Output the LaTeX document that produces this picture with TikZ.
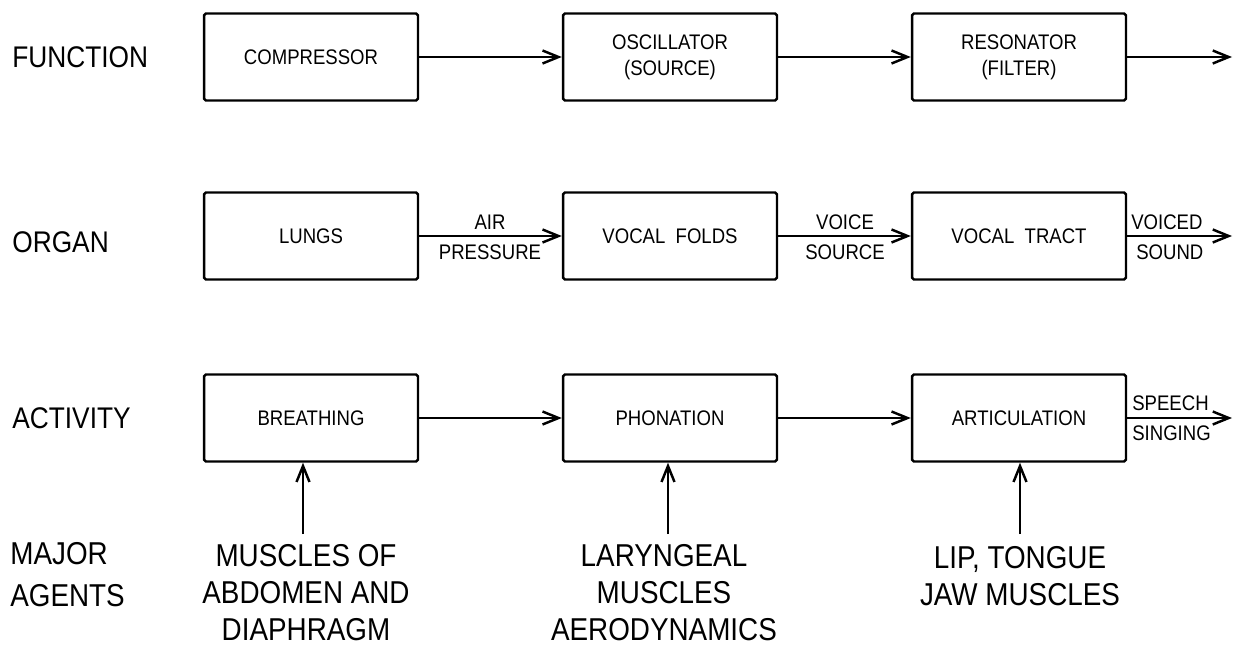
\documentclass[tikz,border=0pt]{standalone}
\usepackage{fontspec}
\setmainfont[FakeStretch=0.88]{Liberation Sans}
\usetikzlibrary{arrows.meta}
\tikzset{
  box/.style={draw, line width=1.4pt, rounded corners=1pt, minimum width=4.28cm, minimum height=1.74cm, align=center, inner sep=0pt, font=\fontsize{12}{15}\selectfont},
  arr/.style={line width=1.4pt, -{Straight Barb[length=3.2mm,width=2.6mm,line width=1.4pt]}},
  lbl/.style={inner sep=0pt, font=\fontsize{12}{14}\selectfont},
  side/.style={anchor=west, inner sep=0pt, font=\fontsize{17}{20}\selectfont},
  agent/.style={align=center, inner sep=0pt, font=\fontsize{18}{21}\selectfont}
}
\begin{document}
\begin{tikzpicture}[x=0.02cm, y=-0.02cm]
\useasboundingbox (0,0) rectangle (1241,646);
% left labels
\node[side] (function) at (12,57) {FUNCTION};
\node[side] (organ) at (12,242) {ORGAN};
\node[side] (activity) at (12,418) {ACTIVITY};
\node[side, font=\fontsize{18}{21}\selectfont] (major) at (10,554) {MAJOR};
\node[side, font=\fontsize{18}{21}\selectfont] (agents) at (10,596) {AGENTS};
% row 1
\node[box] (comp) at (311,57) {COMPRESSOR};
\node[box] (osc) at (670,57) {OSCILLATOR\\(SOURCE)};
\node[box] (res) at (1019,57) {RESONATOR\\(FILTER)};
\coordinate (out1) at (1232,57);
\draw[arr] (comp) -- (osc);
\draw[arr] (osc) -- (res);
\draw[arr] (res) -- (out1);
% row 2
\node[box] (lungs) at (311,236) {LUNGS};
\node[box] (folds) at (670,236) {VOCAL\ \ FOLDS};
\node[box] (tract) at (1019,236) {VOCAL\ \ TRACT};
\coordinate (out2) at (1232,236);
\draw[arr] (lungs) -- (folds);
\draw[arr] (folds) -- (tract);
\draw[arr] (tract) -- (out2);
\node[lbl] (air) at (490,222) {AIR};
\node[lbl] (pressure) at (490,252) {PRESSURE};
\node[lbl] (voice) at (845,222) {VOICE};
\node[lbl] (source) at (845,252) {SOURCE};
\node[lbl, anchor=west] (voiced) at (1131,222) {VOICED};
\node[lbl, anchor=west] (sound) at (1136,252) {SOUND};
% row 3
\node[box] (breath) at (311,418) {BREATHING};
\node[box] (phon) at (670,418) {PHONATION};
\node[box] (artic) at (1019,418) {ARTICULATION};
\coordinate (out3) at (1232,418);
\draw[arr] (breath) -- (phon);
\draw[arr] (phon) -- (artic);
\draw[arr] (artic) -- (out3);
\node[lbl, anchor=west] (speech) at (1132,403) {SPEECH};
\node[lbl, anchor=west] (singing) at (1132,433) {SINGING};
% agents
\coordinate (m1) at (303,534);
\coordinate (m2) at (668,534);
\coordinate (m3) at (1020,534);
\draw[arr] (m1) -- (m1 |- breath.south);
\draw[arr] (m2) -- (m2 |- phon.south);
\draw[arr] (m3) -- (m3 |- artic.south);
\node[agent] (ag1) at (306,593) {MUSCLES OF\\ABDOMEN AND\\DIAPHRAGM};
\node[agent] (ag2) at (664,593) {LARYNGEAL\\MUSCLES\\AERODYNAMICS};
\node[agent] (ag3) at (1020,576) {LIP, TONGUE\\JAW MUSCLES};
\end{tikzpicture}
\end{document}
